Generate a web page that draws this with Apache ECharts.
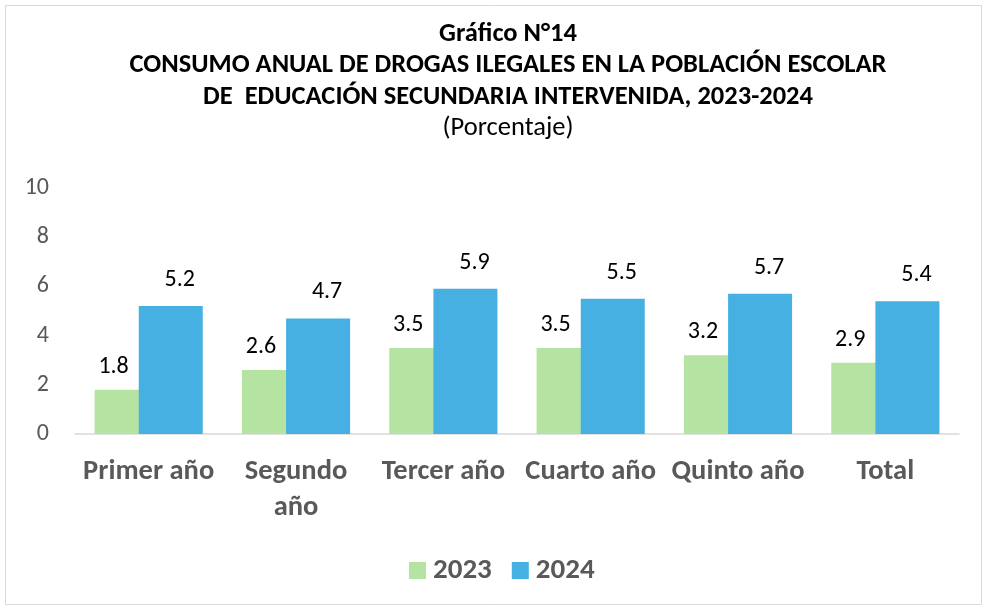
<!DOCTYPE html>
<html>
<head>
<meta charset="utf-8">
<script src="https://cdn.jsdelivr.net/npm/echarts@6/dist/echarts.min.js"></script>
<style>html,body{margin:0;padding:0;background:#fff}#c{width:987px;height:610px}</style>
</head>
<body>
<div id="c"></div>
<script>
var categories = ['Primer año', 'Segundo\naño', 'Tercer año', 'Cuarto año', 'Quinto año', 'Total'];
var series2023 = [1.8, 2.6, 3.5, 3.5, 3.2, 2.9];
var series2024 = [5.2, 4.7, 5.9, 5.5, 5.7, 5.4];
var yTicks = [0, 2, 4, 6, 8, 10];
var titleLines = ['Gráfico N°14', 'CONSUMO ANUAL DE DROGAS ILEGALES EN LA POBLACIÓN ESCOLAR', 'DE  EDUCACIÓN SECUNDARIA INTERVENIDA, 2023-2024', '(Porcentaje)'];

var FONT = 'Carlito, "Liberation Sans Narrow", "Liberation Sans", sans-serif';
var chart = echarts.init(document.getElementById('c'));
var titleY = [34, 65, 97, 128];
var graphics = [{
  type: 'rect', shape: {x: 5.5, y: 5.5, width: 976, height: 599},
  style: {fill: 'none', stroke: '#d9d9d9', lineWidth: 1}, silent: true
}];
titleLines.forEach(function (t, i) {
  graphics.push({
    type: 'text', x: 508, y: titleY[i],
    style: {text: t, fontFamily: FONT, fontSize: 26.5, fontWeight: i < 3 ? 'bold' : 'normal',
      fill: '#000', align: 'center', verticalAlign: 'middle'}
  });
});
function fmt(p) { return p.value.toFixed(1); }
chart.setOption({
  animation: false,
  graphic: graphics,
  grid: {left: 75, right: 28, top: 188, bottom: 176},
  legend: {
    top: 551, left: 404, itemWidth: 17, itemHeight: 17, itemGap: 20,
    icon: 'rect',
    textStyle: {fontFamily: FONT, fontSize: 29, fontWeight: 'bold', color: '#595959', padding: [0, 0, 0, 2]},
    data: ['2023', '2024']
  },
  xAxis: {
    type: 'category', data: categories,
    axisLine: {lineStyle: {color: '#d9d9d9', width: 1.5}},
    axisTick: {show: false},
    axisLabel: {fontFamily: FONT, fontSize: 28.5, fontWeight: 'bold', color: '#595959',
      margin: 20, lineHeight: 36, interval: 0}
  },
  yAxis: {
    type: 'value', min: yTicks[0], max: yTicks[yTicks.length - 1], interval: 2,
    splitLine: {show: false}, axisLine: {show: false}, axisTick: {show: false},
    axisLabel: {fontFamily: FONT, fontSize: 24, color: '#595959', margin: 26}
  },
  series: [{
    name: '2023', type: 'bar', data: series2023, barWidth: 64, barGap: '-31%',
    itemStyle: {color: '#b5e4a2'},
    label: {show: true, position: 'top', distance: 11, offset: [-13, 0],
      fontFamily: FONT, fontSize: 24, color: '#000', formatter: fmt}
  }, {
    name: '2024', type: 'bar', data: series2024, barWidth: 64, barGap: '-31%',
    itemStyle: {color: '#45b0e1'},
    label: {show: true, position: 'top', distance: 14, offset: [9, 0],
      fontFamily: FONT, fontSize: 24, color: '#000', formatter: fmt}
  }]
});
</script>
</body>
</html>
